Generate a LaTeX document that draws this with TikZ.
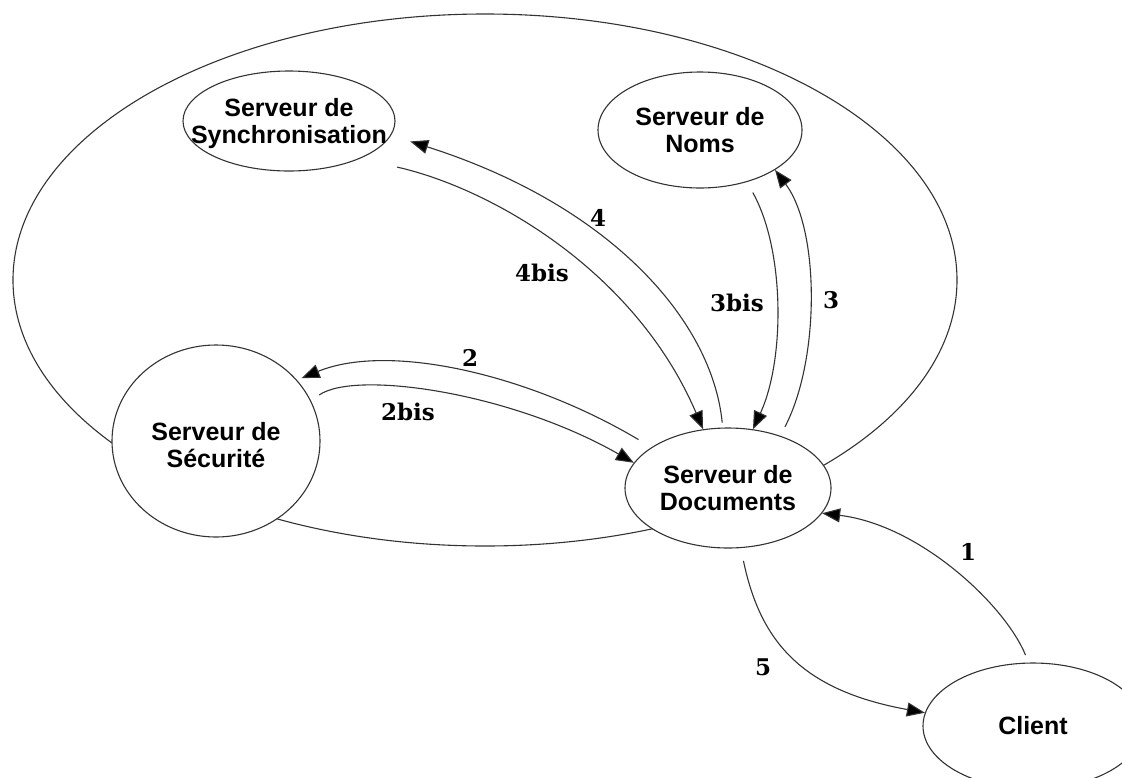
\documentclass[tikz,border=0pt]{standalone}
\usepackage{fontspec}
\setmainfont{Liberation Sans}
\newfontfamily\numfont{DejaVu Serif}
\usetikzlibrary{shapes.geometric, arrows.meta}

\begin{document}
\begin{tikzpicture}[x=1pt, y=-1pt,
  srv/.style={draw=black!80, fill=white, ellipse, inner sep=0pt, line width=1.1pt},
  srvtext/.style={font=\fontsize{25}{27}\selectfont\bfseries, align=center, text=black},
  flow/.style={draw=black!80, line width=1.1pt, -{Triangle[length=18pt, width=14pt, fill=black]}},
  num/.style={font=\numfont\fontsize{23}{26}\selectfont\bfseries, inner sep=0pt}
]
\useasboundingbox (0,0) rectangle (1122,777);

% the whole distributed system
\node[srv, fill=none, minimum width=944pt, minimum height=532pt] (domain) at (485,280) {};

% servers and client
\node[srv, minimum width=212pt, minimum height=100pt,
      label={[srvtext, yshift=-3pt]center:{Serveur de\\Synchronisation}}] (sync) at (289,121) {};
\node[srv, minimum width=204pt, minimum height=116pt,
      label={[srvtext]center:{Serveur de\\Noms}}] (noms) at (700,130) {};
\node[srv, minimum width=208pt, minimum height=192pt,
      label={[srvtext, yshift=-4pt]center:{Serveur de\\Sécurité}}] (secu) at (216,441) {};
\node[srv, minimum width=206pt, minimum height=120pt,
      label={[srvtext]center:{Serveur de\\Documents}}] (docs) at (728,488) {};
\node[srv, minimum width=220pt, minimum height=126pt,
      label={[srvtext]center:{Client}}] (client) at (1033,726) {};

% exchanges
\draw[flow, shorten <=8pt] (client.94) .. controls (1005,605) and (920,525) .. (docs.-15);
\draw[flow, shorten <=13pt] (docs.-78) .. controls (760,640) and (800,690) .. (client.173);
\draw[flow, shorten <=15pt, shorten >=5pt] (docs.152) .. controls (530,375) and (390,342) .. (secu.37);
\draw[flow, shorten <=10pt] (secu.23) .. controls (355,370) and (510,392) .. (docs.165);
\draw[flow, shorten <=5pt, shorten >=20pt] (docs.95) .. controls (712,320) and (610,205) .. (sync.-8);
\draw[flow, shorten <=38pt] (sync.-28) .. controls (490,188) and (635,270) .. (docs.113);
\draw[flow, shorten <=10pt] (docs.45) .. controls (820,360) and (820,230) .. (noms.-28);
\draw[flow, shorten <=12pt] (noms.-48) .. controls (785,250) and (785,360) .. (docs.67);

% step numbers
\node[num] (n1) at (968,552) {1};
\node[num] (n5) at (763,667) {5};
\node[num] (n2) at (470,358) {2};
\node[num] (n2b) at (408,412) {2bis};
\node[num] (n4) at (598,218) {4};
\node[num] (n4b) at (542,273) {4bis};
\node[num] (n3b) at (737,303) {3bis};
\node[num] (n3) at (831,300) {3};
\end{tikzpicture}
\end{document}
